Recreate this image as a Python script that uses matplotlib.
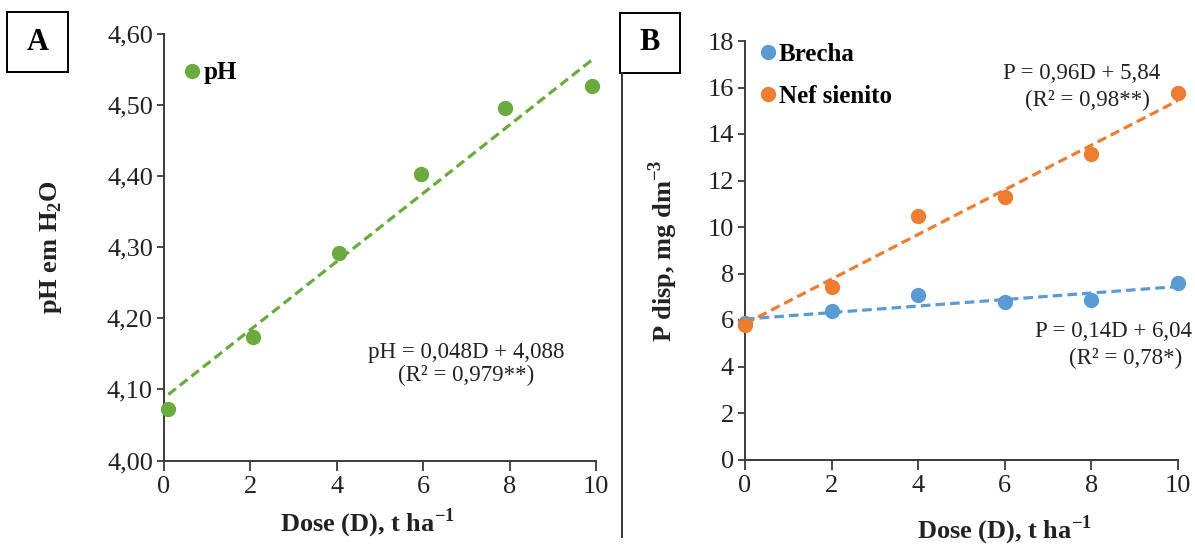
import matplotlib
matplotlib.use("Agg")
import matplotlib.pyplot as plt
from matplotlib.patches import Rectangle
from matplotlib.lines import Line2D

# ---- data ----
doses_a = [0.1, 2.05, 4.05, 5.95, 7.9, 9.9]
ph_values = [4.072, 4.174, 4.292, 4.403, 4.496, 4.527]
ph_fit = (0.048, 4.088)
ph_yticks = [4.00, 4.10, 4.20, 4.30, 4.40, 4.50, 4.60]
ph_yticklabels = ["4,00", "4,10", "4,20", "4,30", "4,40", "4,50", "4,60"]

doses_b = [0, 2, 4, 6, 8, 10]
brecha = [5.87, 6.39, 7.07, 6.77, 6.88, 7.59]
nef = [5.80, 7.42, 10.47, 11.29, 13.14, 15.76]
brecha_fit = (0.14, 6.04)
nef_fit = (0.96, 5.84)
p_yticks = [0, 2, 4, 6, 8, 10, 12, 14, 16, 18]
xticks = [0, 2, 4, 6, 8, 10]

GREEN = "#6BAA3E"
BLUE = "#5B9BD5"
ORANGE = "#ED7D31"
AXC = "#3a3a3a"

plt.rcParams["font.family"] = ["Liberation Serif", "DejaVu Serif"]
plt.rcParams["mathtext.fontset"] = "custom"
plt.rcParams["mathtext.rm"] = "Liberation Serif"
plt.rcParams["mathtext.bf"] = "Liberation Serif:bold"

fig = plt.figure(figsize=(11.95, 5.47), dpi=100)
W, H = 1195, 547

def px_axes(x0, x1, ytop, ybot):
    return [x0 / W, (H - ybot) / H, (x1 - x0) / W, (ybot - ytop) / H]

axA = fig.add_axes(px_axes(164, 596, 34, 460.5))
axB = fig.add_axes(px_axes(745, 1178, 41, 459.5))

def style(ax):
    for s in ["top", "right"]:
        ax.spines[s].set_visible(False)
    for s in ["left", "bottom"]:
        ax.spines[s].set_color(AXC)
        ax.spines[s].set_linewidth(1.4)
    ax.tick_params(axis="both", direction="out", colors=AXC, labelcolor="#222222",
                   labelsize=19, width=1.3)
    ax.tick_params(axis="y", length=5, pad=3)
    ax.tick_params(axis="x", length=7, pad=4)
    ax.set_xticks(xticks)
    ax.set_xticklabels([str(t) for t in xticks])

dash = (0, (3, 1.6))

# ---- Panel A ----
style(axA)
axA.set_xlim(0, 10)
axA.set_ylim(4.0, 4.6)
axA.set_yticks(ph_yticks)
axA.set_yticklabels(ph_yticklabels)
fx = [doses_a[0], doses_a[-1]]
axA.plot(fx, [ph_fit[0] * x + ph_fit[1] for x in fx], color=GREEN, lw=2.3, ls=dash, zorder=2)
axA.plot(doses_a, ph_values, "o", color=GREEN, ms=10, label="pH", zorder=3, clip_on=False)
axA.legend(loc="upper left", bbox_to_anchor=(0.048, 0.936), frameon=False, handlelength=0.6,
           handletextpad=0.15, borderaxespad=0, borderpad=0,
           prop={"family": "Liberation Serif", "weight": "bold", "size": 18})
axA.text(0.699, 0.254, "pH = 0,048D + 4,088", transform=axA.transAxes, ha="center",
         va="center", fontsize=16.5, color="#222222")
axA.text(0.699, 0.200, "(R² = 0,979**)", transform=axA.transAxes, ha="center",
         va="center", fontsize=16.5, color="#222222")
axA.set_ylabel(r"pH em H$_\mathbf{2}$O", fontsize=19, fontweight="bold", color="#222222")
axA.yaxis.set_label_coords(-0.231, 0.5)
axA.set_xlabel(r"Dose (D), t ha$^{\mathbf{-1}}$", fontsize=19, fontweight="bold", color="#222222")
axA.xaxis.set_label_coords(0.47, -0.108)

# ---- Panel B ----
style(axB)
axB.set_xlim(0, 10)
axB.set_ylim(0, 18)
axB.set_yticks(p_yticks)
axB.set_yticklabels([str(t) for t in p_yticks])
fxb = [doses_b[0], doses_b[-1]]
axB.plot(fxb, [brecha_fit[0] * x + brecha_fit[1] for x in fxb], color=BLUE, lw=2.3, ls=dash, zorder=2)
axB.plot(fxb, [nef_fit[0] * x + nef_fit[1] for x in fxb], color=ORANGE, lw=2.3, ls=dash, zorder=2)
axB.plot(doses_b, brecha, "o", color=BLUE, ms=10, label="Brecha", zorder=3, clip_on=False)
axB.plot(doses_b, nef, "o", color=ORANGE, ms=10, label="Nef sienito", zorder=4, clip_on=False)
axB.legend(loc="upper left", bbox_to_anchor=(0.035, 0.995), frameon=False, handlelength=0.6,
           handletextpad=0.15, borderaxespad=0, borderpad=0, labelspacing=0.75,
           prop={"family": "Liberation Serif", "weight": "bold", "size": 18})
axB.text(0.778, 0.9235, "P = 0,96D + 5,84", transform=axB.transAxes, ha="center",
         va="center", fontsize=16.5, color="#222222")
axB.text(0.790, 0.859, "(R² = 0,98**)", transform=axB.transAxes, ha="center",
         va="center", fontsize=16.5, color="#222222")
axB.text(0.850, 0.305, "P = 0,14D + 6,04", transform=axB.transAxes, ha="center",
         va="center", fontsize=16.5, color="#222222")
axB.text(0.878, 0.2425, "(R² = 0,78*)", transform=axB.transAxes, ha="center",
         va="center", fontsize=16.5, color="#222222")
axB.set_ylabel(r"P disp, mg dm$^{\mathbf{-3}}$", fontsize=19, fontweight="bold", color="#222222")
axB.yaxis.set_label_coords(-0.15, 0.5)
axB.set_xlabel(r"Dose (D), t ha$^{\mathbf{-1}}$", fontsize=19, fontweight="bold", color="#222222")
axB.xaxis.set_label_coords(0.6, -0.128)

# ---- panel boxes & separator ----
fig.add_artist(Rectangle((7 / W, (H - 72) / H), 61 / W, 60 / H, transform=fig.transFigure,
                         fill=False, edgecolor="black", lw=1.4))
fig.text(37.5 / W, (H - 42) / H, "A", ha="center", va="center", fontsize=22,
         fontweight="bold", color="black")
fig.add_artist(Rectangle((620 / W, (H - 73) / H), 60 / W, 60 / H, transform=fig.transFigure,
                         fill=False, edgecolor="black", lw=1.4))
fig.text(650 / W, (H - 43) / H, "B", ha="center", va="center", fontsize=22,
         fontweight="bold", color="black")
fig.add_artist(Line2D([622 / W, 622 / W], [(H - 73) / H, (H - 537) / H],
                      transform=fig.transFigure, color="#333333", lw=1.4))

fig.savefig("out.png", dpi=100, facecolor="white")
